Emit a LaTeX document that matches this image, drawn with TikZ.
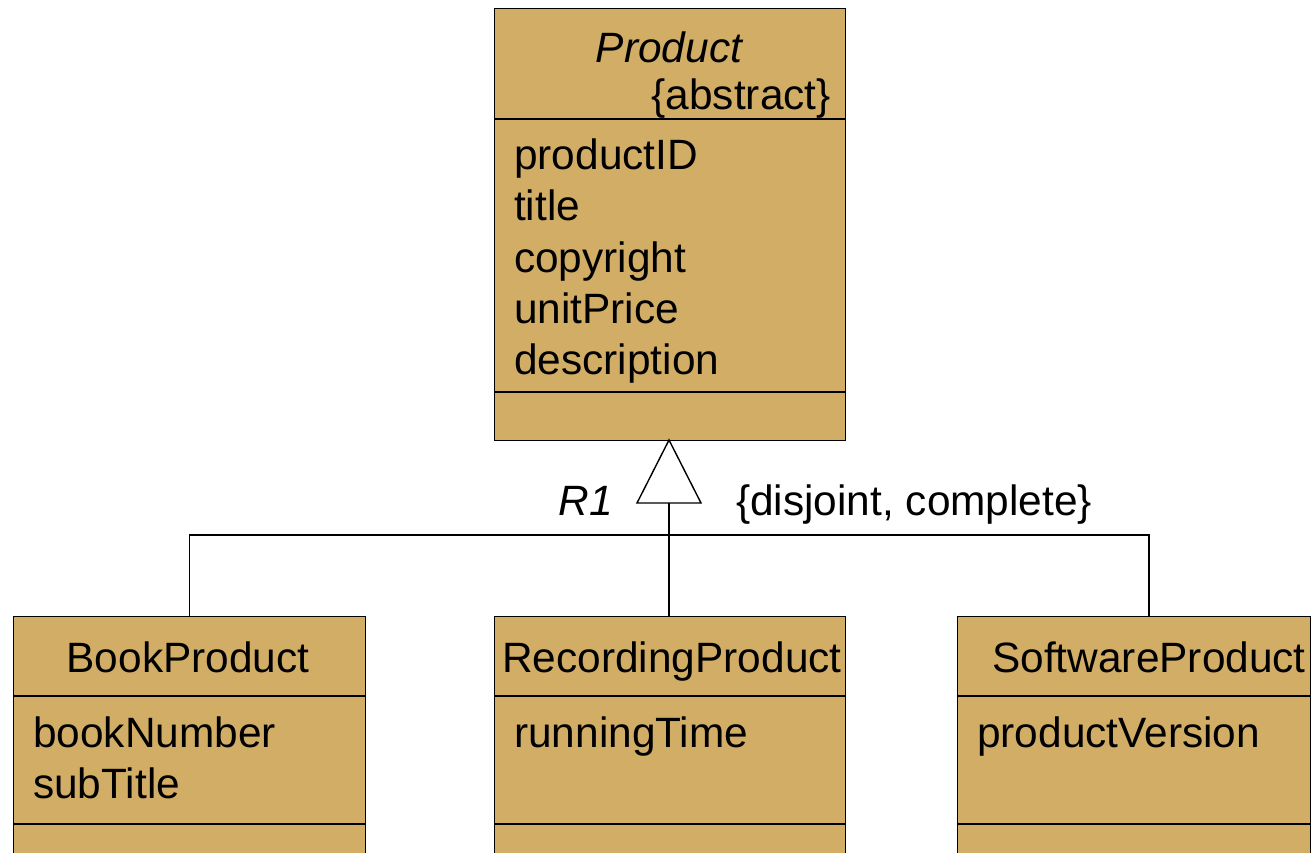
\documentclass[tikz,border=0pt]{standalone}
\usepackage{fontspec}
\setmainfont{Liberation Sans}
\definecolor{classfill}{RGB}{210,173,102}
\begin{document}
\begin{tikzpicture}[x=1pt,y=-1pt,
  classbox/.style={draw=black,line width=1.4pt,fill=classfill,anchor=north west,inner sep=0pt},
  txt/.style={inner sep=0pt,font=\fontsize{42.4}{50}\selectfont},
  attr/.style={txt,anchor=base west},
  conn/.style={draw=black,line width=1.4pt}]
\clip (0,0) rectangle (1314,853);
\fill[white] (0,0) rectangle (1314,853);

% Product (abstract superclass)
\node[classbox,minimum width=351pt,minimum height=432pt] (product) at (494,8) {};
\draw[line width=1.4pt] (494,119) -- (845,119);
\draw[line width=1.4pt] (494,392) -- (845,392);
\node[txt,anchor=base] (pname) at (669,63) {\itshape Product};
\node[txt,anchor=base east] (pabs) at (831,110) {\{abstract\}};
\node[attr] (pa1) at (514,170) {productID};
\node[attr] (pa2) at (514,221) {title};
\node[attr] (pa3) at (514,272) {copyright};
\node[attr] (pa4) at (514,323) {unitPrice};
\node[attr] (pa5) at (514,374) {description};

% BookProduct
\node[classbox,minimum width=352pt,minimum height=260pt] (book) at (13,616) {};
\draw[line width=1.4pt] (13,696) -- (365,696);
\draw[line width=1.4pt] (13,824) -- (365,824);
\node[txt,anchor=base] (bname) at (188,672) {BookProduct};
\node[attr] (ba1) at (33,747) {bookNumber};
\node[attr] (ba2) at (33,798) {subTitle};

% RecordingProduct
\node[classbox,minimum width=351pt,minimum height=260pt] (recording) at (494,616) {};
\draw[line width=1.4pt] (494,696) -- (845,696);
\draw[line width=1.4pt] (494,824) -- (845,824);
\node[txt,anchor=base] (rname) at (672,672) {RecordingProduct};
\node[attr] (ra1) at (514,747) {runningTime};

% SoftwareProduct
\node[classbox,minimum width=353pt,minimum height=260pt] (software) at (957,616) {};
\draw[line width=1.4pt] (957,696) -- (1310,696);
\draw[line width=1.4pt] (957,824) -- (1310,824);
\node[txt,anchor=base] (sname) at (1149,672) {SoftwareProduct};
\node[attr] (sa1) at (977,747) {productVersion};

% Generalization R1
\coordinate (apex) at (669,440);
\coordinate (tribase) at (669,503);
\coordinate (bar) at (669,535);
\coordinate (swtop) at (1149,616);
\draw[conn,fill=white] (apex) -- (637,503) -- (701,503) -- cycle;
\draw[conn] (tribase) -- (tribase |- recording.north);
\draw[conn] (book.north) |- (bar) -| (swtop);
\node[txt,anchor=base east] (r1) at (613,515) {\itshape R1};
\node[txt,anchor=base west] (constraint) at (736,515) {\{disjoint, complete\}};
\end{tikzpicture}
\end{document}
